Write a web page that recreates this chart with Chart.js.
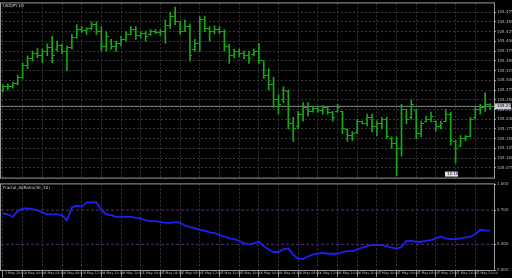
<!DOCTYPE html>
<html><head><meta charset="utf-8">
<script src="https://cdn.jsdelivr.net/npm/chart.js@4.4.1/dist/chart.umd.min.js"></script>
<style>
html,body{margin:0;padding:0;background:#000;width:512px;height:278px;overflow:hidden}
#c1{position:absolute;left:0;top:0}
#c2{position:absolute;left:0;top:181px}
</style></head><body>
<canvas id="c1" width="512" height="181"></canvas>
<canvas id="c2" width="512" height="97"></canvas>
<script>
const symbolLabel = 'USDJPY,H1';
const indicatorLabel = 'Fractal_AdRatio(30, 30)';
const clockText = '12:18';
const labelEvery = 4;
const timeLabels = ['1 May 20:00',
 '4 May 00:00','4 May 04:00','4 May 08:00','4 May 12:00','4 May 16:00','4 May 20:00',
 '5 May 00:00','5 May 04:00','5 May 08:00','5 May 12:00','5 May 16:00','5 May 20:00',
 '6 May 00:00','6 May 04:00','6 May 08:00','6 May 12:00','6 May 16:00','6 May 20:00',
 '7 May 00:00','7 May 04:00','7 May 08:00','7 May 12:00','7 May 16:00','7 May 20:00'];
const priceTicks = [105.475,105.450,105.425,105.400,105.375,105.350,105.325,105.300,105.275,105.250,105.225,105.200,105.175,105.150,105.125,105.100,105.075];
const ratioTicks = [1.0, 0.7, 0.3, 0.0];
const levels = [0.7, 0.3];

const openP = [105.275,105.283,105.285,105.293,105.308,105.338,105.355,105.370,105.363,105.375,
105.385,105.380,105.390,105.375,105.383,105.410,105.430,105.428,105.433,105.443,
105.425,105.388,105.400,105.388,105.395,105.405,105.418,105.430,105.415,105.420,
105.418,105.425,105.423,105.425,105.440,105.465,105.450,105.425,105.438,105.380,
105.395,105.455,105.433,105.425,105.430,105.425,105.388,105.363,105.375,105.368,
105.363,105.365,105.375,105.350,105.313,105.288,105.250,105.250,105.270,105.188,
105.180,105.213,105.230,105.220,105.228,105.223,105.230,105.218,105.220,105.220,
105.173,105.158,105.165,105.193,105.190,105.205,105.180,105.188,105.200,105.150,
105.138,105.125,105.225,105.205,105.223,105.163,105.195,105.200,105.195,105.180,
105.193,105.213,105.143,105.130,105.150,105.155,105.205,105.225,105.230,105.238];
const highP = [105.288,105.290,105.295,105.313,105.345,105.363,105.375,105.383,105.380,105.393,
105.413,105.400,105.393,105.388,105.418,105.443,105.438,105.435,105.450,105.450,
105.438,105.425,105.405,105.400,105.413,105.425,105.438,105.438,105.425,105.425,
105.430,105.430,105.430,105.455,105.475,105.488,105.450,105.455,105.445,105.405,
105.463,105.465,105.438,105.440,105.438,105.430,105.393,105.380,105.380,105.375,
105.375,105.380,105.395,105.350,105.330,105.308,105.263,105.283,105.275,105.205,
105.220,105.243,105.243,105.233,105.230,105.235,105.233,105.220,105.238,105.220,
105.175,105.168,105.200,105.195,105.213,105.213,105.195,105.205,105.205,105.155,
105.155,105.238,105.225,105.250,105.225,105.195,105.208,105.218,105.195,105.195,
105.225,105.218,105.145,105.158,105.158,105.205,105.230,105.238,105.268,105.240];
const lowP = [105.270,105.275,105.280,105.288,105.305,105.330,105.350,105.358,105.345,105.363,
105.345,105.375,105.368,105.325,105.380,105.408,105.423,105.418,105.430,105.418,
105.375,105.375,105.380,105.375,105.388,105.400,105.418,105.405,105.408,105.400,
105.415,105.420,105.415,105.395,105.433,105.443,105.418,105.425,105.350,105.375,
105.375,105.425,105.400,105.420,105.420,105.375,105.343,105.358,105.360,105.355,
105.343,105.363,105.343,105.305,105.275,105.230,105.213,105.243,105.175,105.143,
105.175,105.195,105.208,105.218,105.218,105.213,105.213,105.195,105.218,105.163,
105.143,105.145,105.163,105.188,105.183,105.168,105.158,105.175,105.150,105.125,
105.055,105.105,105.188,105.200,105.150,105.155,105.193,105.193,105.170,105.175,
105.193,105.133,105.088,105.130,105.145,105.155,105.200,105.213,105.220,105.225];
const closeP = [105.283,105.285,105.293,105.308,105.338,105.355,105.370,105.363,105.375,105.385,
105.363,105.390,105.375,105.383,105.410,105.430,105.428,105.433,105.443,105.425,
105.388,105.413,105.388,105.395,105.405,105.418,105.430,105.415,105.420,105.413,
105.425,105.423,105.425,105.440,105.465,105.450,105.425,105.438,105.363,105.395,
105.455,105.433,105.425,105.430,105.425,105.388,105.363,105.375,105.368,105.363,
105.355,105.375,105.350,105.313,105.288,105.250,105.238,105.275,105.188,105.175,
105.213,105.230,105.220,105.228,105.223,105.230,105.218,105.205,105.230,105.175,
105.158,105.163,105.193,105.190,105.205,105.180,105.188,105.200,105.155,105.138,
105.125,105.225,105.200,105.238,105.163,105.188,105.200,105.208,105.180,105.188,
105.213,105.145,105.125,105.150,105.155,105.200,105.225,105.230,105.238,105.233];
const ratio = [0.66,0.65,0.62,0.69,0.72,0.72,0.71,0.70,0.67,0.65,
0.65,0.65,0.64,0.58,0.73,0.75,0.74,0.79,0.79,0.79,
0.70,0.65,0.64,0.62,0.62,0.62,0.62,0.61,0.60,0.58,
0.57,0.57,0.56,0.55,0.55,0.56,0.55,0.52,0.50,0.49,
0.47,0.46,0.44,0.43,0.41,0.39,0.37,0.36,0.34,0.31,
0.30,0.31,0.33,0.28,0.24,0.21,0.21,0.24,0.25,0.18,
0.13,0.13,0.16,0.18,0.19,0.20,0.19,0.19,0.19,0.21,
0.22,0.22,0.24,0.26,0.28,0.29,0.29,0.29,0.28,0.26,
0.25,0.27,0.34,0.34,0.33,0.33,0.34,0.35,0.37,0.39,
0.37,0.36,0.36,0.37,0.38,0.39,0.42,0.47,0.46,0.46];

const X_MIN = -0.4, X_MAX = 99.8;
const GREEN = '#16a816';
const GRID = '#363636';
const AXIS_TXT = '#b8b8b8';
const FONT = {size: 4, family: 'DejaVu Sans'};
const XFONT = {size: 3.3, family: 'DejaVu Sans'};
const idx = closeP.map((_, i) => i);
const last = closeP.length - 1;

function tickImg(left) {
  const c = document.createElement('canvas');
  c.width = 5; c.height = 1;
  const g = c.getContext('2d');
  g.fillStyle = GREEN;
  g.fillRect(left ? 0 : 3, 0, 2, 1);
  return c;
}
const xTicks = s => { s.ticks = timeLabels.map((_, k) => ({value: k * labelEvery})); };

const framePlugin = {
  id: 'frame',
  afterDraw(chart) {
    const {ctx, chartArea: a} = chart;
    ctx.save();
    ctx.strokeStyle = '#9c9c9c';
    ctx.lineWidth = 1;
    ctx.strokeRect(a.left - 0.5, a.top - 0.5, a.right - a.left + 1, a.bottom - a.top + 1);
    ctx.restore();
  }
};

const mainText = {
  id: 'mainText',
  afterDraw(chart) {
    const {ctx, chartArea: a, scales} = chart;
    ctx.save();
    ctx.font = '4px "DejaVu Sans"';
    ctx.textBaseline = 'top';
    ctx.fillStyle = '#d0d0d0';
    ctx.fillText(symbolLabel, a.left + 2, a.top + 1);
    const y = scales.y.getPixelForValue(closeP[last]);
    ctx.fillStyle = '#c9ced8';
    ctx.fillRect(a.right + 1, y - 3, 16, 6);
    ctx.fillStyle = '#000';
    ctx.textBaseline = 'middle';
    ctx.fillText(closeP[last].toFixed(3), a.right + 3, y);
    ctx.fillStyle = '#e4e4e4';
    ctx.fillRect(a.right - 49, a.bottom - 6, 13, 5);
    ctx.fillStyle = '#000';
    ctx.fillText(clockText, a.right - 47, a.bottom - 3.5);
    ctx.restore();
  }
};

const indText = {
  id: 'indText',
  afterDraw(chart) {
    const {ctx, chartArea: a} = chart;
    ctx.save();
    ctx.font = '4px "DejaVu Sans"';
    ctx.textBaseline = 'top';
    ctx.fillStyle = '#d0d0d0';
    ctx.fillText(indicatorLabel, a.left + 2, a.top + 2);
    ctx.restore();
  }
};

new Chart(document.getElementById('c1'), {
  type: 'bar',
  data: {
    datasets: [
      {type: 'line', data: [{x: X_MIN, y: closeP[last]}, {x: X_MAX, y: closeP[last]}],
       borderColor: '#8a8a8a', borderWidth: 1, pointRadius: 0, order: 3},
      {type: 'bar', data: idx.map(i => ({x: i, y: [lowP[i], highP[i]]})),
       backgroundColor: GREEN, barThickness: 1, order: 2},
      {type: 'scatter', data: idx.map(i => ({x: i, y: openP[i]})),
       pointStyle: tickImg(true), radius: 2, order: 1},
      {type: 'scatter', data: idx.map(i => ({x: i, y: closeP[i]})),
       pointStyle: tickImg(false), radius: 2, order: 1}
    ]
  },
  options: {
    responsive: false, animation: false, events: [],
    layout: {autoPadding: false, padding: {left: 1, top: 1, right: 0, bottom: 1}},
    plugins: {legend: {display: false}, tooltip: {enabled: false}},
    scales: {
      x: {type: 'linear', min: X_MIN, max: X_MAX, offset: false,
          afterBuildTicks: xTicks,
          ticks: {display: false},
          grid: {color: GRID, drawTicks: false, offset: false},
          border: {display: false, dash: [2, 2]},
          afterFit: s => { s.height = 0; }},
      y: {position: 'right', min: 105.05, max: 105.4975, beginAtZero: false,
          afterBuildTicks: s => { s.ticks = priceTicks.map(v => ({value: v})); },
          ticks: {color: AXIS_TXT, font: FONT, padding: 1, autoSkip: false,
                  callback: v => Number(v).toFixed(3)},
          grid: {color: GRID, tickColor: '#9c9c9c', tickLength: 2},
          border: {display: false, dash: [2, 2]},
          afterFit: s => { s.width = 18; }}
    }
  },
  plugins: [framePlugin, mainText]
});

new Chart(document.getElementById('c2'), {
  type: 'line',
  data: {
    datasets: [
      {data: idx.map(i => ({x: i, y: ratio[i]})), borderColor: '#1f1ff2',
       borderWidth: 1.8, pointRadius: 0, order: 1},
      ...levels.map(v => ({data: [{x: X_MIN, y: v}, {x: X_MAX, y: v}],
       borderColor: '#5c2c70', borderWidth: 1, borderDash: [3, 2], pointRadius: 0, order: 2}))
    ]
  },
  options: {
    responsive: false, animation: false, events: [],
    layout: {autoPadding: false, padding: {left: 1, top: 1, right: 0, bottom: 0}},
    plugins: {legend: {display: false}, tooltip: {enabled: false}},
    scales: {
      x: {type: 'linear', min: X_MIN, max: X_MAX, offset: false,
          afterBuildTicks: xTicks,
          ticks: {color: AXIS_TXT, font: XFONT, align: 'start', labelOffset: 2, padding: -6,
                  maxRotation: 0, minRotation: 0, autoSkip: false,
                  callback: v => timeLabels[Math.round(v / labelEvery)]},
          grid: {color: GRID, tickColor: '#8a8a8a', tickLength: 7, offset: false},
          border: {display: false, dash: [2, 2]},
          afterFit: s => { s.height = 8; }},
      y: {position: 'right', min: 0, max: 1,
          afterBuildTicks: s => { s.ticks = ratioTicks.map(v => ({value: v})); },
          ticks: {color: AXIS_TXT, font: FONT, padding: 1, autoSkip: false,
                  callback: v => Number(v).toFixed(3)},
          grid: {drawOnChartArea: false, tickColor: '#9c9c9c', tickLength: 2},
          border: {display: false},
          afterFit: s => { s.width = 18; }}
    }
  },
  plugins: [framePlugin, indText]
});
</script>
</body></html>
